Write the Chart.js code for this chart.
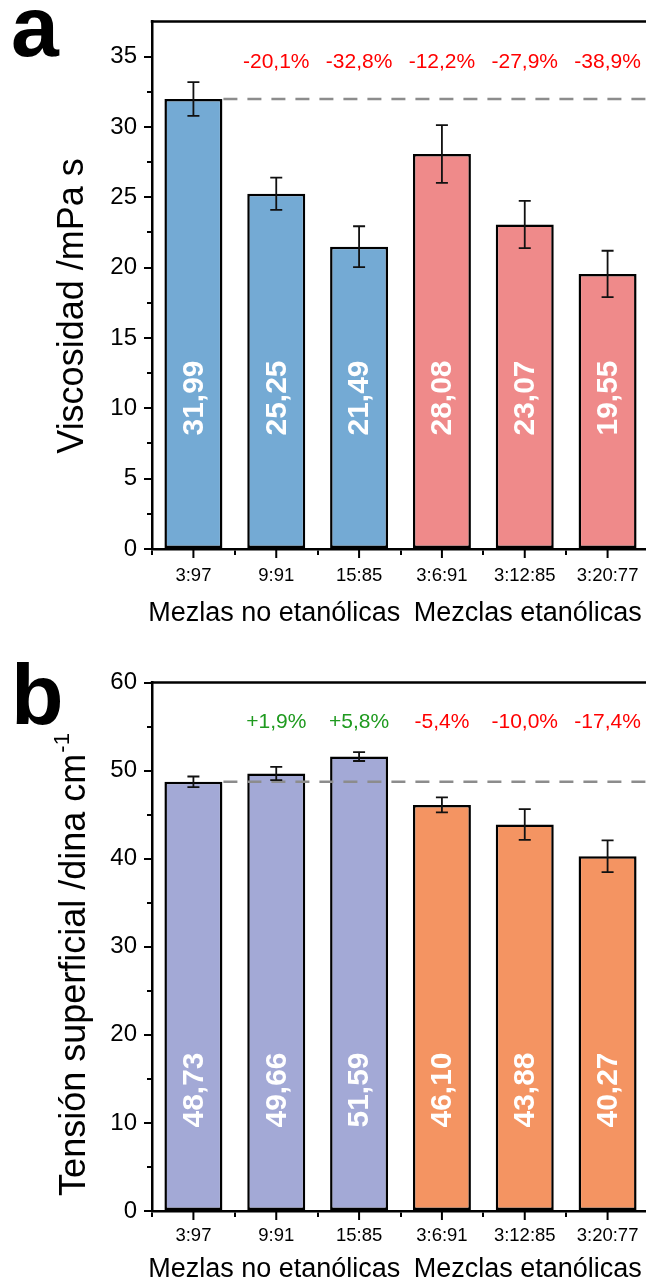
<!DOCTYPE html>
<html><head><meta charset="utf-8">
<script src="https://cdn.jsdelivr.net/npm/chart.js@4.4.0/dist/chart.umd.min.js"></script>
<style>
html,body{margin:0;padding:0;background:#fff;overflow:hidden;width:646px;height:1285px;}
#wrap{position:relative;width:646px;height:1285px;overflow:hidden;background:#fff;}
canvas{position:absolute;left:0;}
#ca{top:0;} #cb{top:640px;}
</style></head><body>
<div id="wrap">
<canvas id="ca" width="650" height="640"></canvas>
<canvas id="cb" width="650" height="645"></canvas>
</div>
<script>
// ---------- data ----------
const categories = ['3:97','9:91','15:85','3:6:91','3:12:85','3:20:77'];
const groupLabels = ['Mezlas no etanólicas','Mezclas etanólicas'];

const viscosity = [31.99, 25.25, 21.49, 28.08, 23.07, 19.55];
const viscosityErr = [1.2, 1.15, 1.45, 2.05, 1.68, 1.65];
const viscosityLabels = ['31,99','25,25','21,49','28,08','23,07','19,55'];
const viscosityChange = ['','-20,1%','-32,8%','-12,2%','-27,9%','-38,9%'];
const viscosityTicks = [0,5,10,15,20,25,30,35];
const viscosityMinor = [2.5,7.5,12.5,17.5,22.5,27.5,32.5];

const tension = [48.73, 49.66, 51.59, 46.10, 43.88, 40.27];
const tensionErr = [0.6, 0.75, 0.5, 0.85, 1.75, 1.8];
const tensionLabels = ['48,73','49,66','51,59','46,10','43,88','40,27'];
const tensionChange = ['','+1,9%','+5,8%','-5,4%','-10,0%','-17,4%'];
const tensionTicks = [0,10,20,30,40,50,60];
const tensionMinor = [5,15,25,35,45,55];

const FONT = 'Arial, "Liberation Sans", sans-serif';

const decor = {
  id: 'decor',
  afterDatasetsDraw(chart, args, o) {
    const {ctx, chartArea: a, scales: {x, y}} = chart;
    const meta = chart.getDatasetMeta(0);
    ctx.save();
    // dashed reference line
    const b0 = meta.data[0];
    const yRef = y.getPixelForValue(o.values[0]);
    ctx.strokeStyle = '#8c8c8c';
    ctx.lineWidth = 2.5;
    ctx.setLineDash([14, 10]);
    ctx.beginPath();
    ctx.moveTo(b0.x + b0.width / 2 + 1, yRef);
    ctx.lineTo(a.right, yRef);
    ctx.stroke();
    ctx.setLineDash([]);
    // error bars
    ctx.strokeStyle = '#111';
    ctx.lineWidth = 1.8;
    meta.data.forEach((bar, i) => {
      const v = o.values[i], e = o.errors[i];
      const yt = y.getPixelForValue(v + e), yb = y.getPixelForValue(v - e);
      ctx.beginPath();
      ctx.moveTo(bar.x, yt); ctx.lineTo(bar.x, yb);
      ctx.moveTo(bar.x - 6, yt); ctx.lineTo(bar.x + 6, yt);
      ctx.moveTo(bar.x - 6, yb); ctx.lineTo(bar.x + 6, yb);
      ctx.stroke();
    });
    // value labels inside bars (rotated)
    ctx.fillStyle = '#ffffff';
    ctx.font = 'bold 30px ' + FONT;
    ctx.textAlign = 'center';
    ctx.textBaseline = 'middle';
    meta.data.forEach((bar, i) => {
      ctx.save();
      ctx.translate(bar.x, a.bottom - o.labelOffset);
      ctx.rotate(-Math.PI / 2);
      ctx.fillText(o.valueLabels[i], 0, 1);
      ctx.restore();
    });
    // percentage changes
    ctx.font = '21px ' + FONT;
    meta.data.forEach((bar, i) => {
      const t = o.changes[i];
      if (!t) return;
      ctx.fillStyle = t.startsWith('+') ? '#1f9a1f' : '#ff0000';
      ctx.fillText(t, bar.x, a.top + o.pctOffset);
    });
    ctx.restore();
  },
  afterDraw(chart, args, o) {
    const {ctx, chartArea: a, scales: {x, y}} = chart;
    ctx.save();
    ctx.strokeStyle = '#000';
    // top frame
    ctx.lineWidth = 2.5;
    ctx.beginPath();
    ctx.moveTo(a.left - 1.25, a.top);
    ctx.lineTo(a.right, a.top);
    ctx.stroke();
    // minor y ticks
    ctx.lineWidth = 2;
    ctx.beginPath();
    o.minor.forEach(v => {
      const py = Math.round(y.getPixelForValue(v));
      ctx.moveTo(a.left, py); ctx.lineTo(a.left - 5, py);
    });
    // x ticks at category centers
    chart.getDatasetMeta(0).data.forEach(bar => {
      ctx.moveTo(bar.x, a.bottom); ctx.lineTo(bar.x, a.bottom + 9);
    });
    ctx.stroke();
    // group labels
    ctx.fillStyle = '#000';
    ctx.font = '27px ' + FONT;
    ctx.textAlign = 'center';
    ctx.textBaseline = 'middle';
    ctx.fillText(groupLabels[0], x.getPixelForValue(1) - 2, a.bottom + o.groupOffset);
    ctx.fillText(groupLabels[1], x.getPixelForValue(4) + 3, a.bottom + o.groupOffset);
    // axis title (rotated, with optional superscript)
    ctx.save();
    ctx.translate(o.titleX, o.titleY);
    ctx.rotate(-Math.PI / 2);
    ctx.textBaseline = 'alphabetic';
    ctx.textAlign = 'left';
    ctx.font = o.titleSize + 'px ' + FONT;
    const wMain = ctx.measureText(o.title).width;
    let wSup = 0;
    const supFont = Math.round(o.titleSize * 0.6) + 'px ' + FONT;
    if (o.sup) { ctx.font = supFont; wSup = ctx.measureText(o.sup).width; }
    const start = -(wMain + wSup) / 2;
    ctx.font = o.titleSize + 'px ' + FONT;
    ctx.fillText(o.title, start, 0);
    if (o.sup) {
      ctx.font = supFont;
      ctx.fillText(o.sup, start + wMain + 1, -o.titleSize * 0.45);
    }
    ctx.restore();
    // panel letter
    ctx.font = 'bold 86px ' + FONT;
    ctx.textAlign = 'left';
    ctx.textBaseline = 'alphabetic';
    ctx.fillText(o.letter, 11, o.letterBase);
    ctx.restore();
  }
};

function makeChart(id, cfg) {
  const canvas = document.getElementById(id);
  return new Chart(canvas, {
    type: 'bar',
    data: {
      labels: categories,
      datasets: [{
        data: cfg.values,
        backgroundColor: cfg.colors,
        borderColor: '#000',
        borderWidth: 2.5,
        borderSkipped: false,
        barPercentage: 0.70,
        categoryPercentage: 1.0
      }]
    },
    options: {
      responsive: false,
      animation: false,
      events: [],
      layout: { padding: { top: cfg.areaTop, right: 1, left: 0, bottom: 0 } },
      plugins: {
        legend: { display: false },
        tooltip: { enabled: false },
        decor: {
          values: cfg.values, errors: cfg.errors, valueLabels: cfg.valueLabels,
          changes: cfg.changes, minor: cfg.minor, labelOffset: cfg.labelOffset,
          pctOffset: cfg.pctOffset, groupOffset: cfg.groupOffset,
          title: cfg.title, sup: cfg.sup, titleSize: cfg.titleSize,
          titleX: cfg.titleX, titleY: cfg.titleY,
          letter: cfg.letter, letterBase: cfg.letterBase
        }
      },
      scales: {
        x: {
          type: 'category',
          offset: true,
          afterFit(s) { s.height = canvas.height - cfg.areaBottom; },
          grid: { display: true, offset: true, drawOnChartArea: false, drawTicks: true,
                  tickLength: 6, color: '#000', lineWidth: 2 },
          border: { display: true, color: '#000', width: 2.5 },
          ticks: { color: '#000', font: { family: FONT, size: 18.5 }, padding: cfg.tickPad,
                   maxRotation: 0, autoSkip: false }
        },
        y: {
          min: 0, max: cfg.max,
          afterFit(s) { s.width = 152; },
          afterBuildTicks(s) { s.ticks = cfg.ticks.map(v => ({ value: v })); },
          grid: { display: true, drawOnChartArea: false, drawTicks: true,
                  tickLength: 8, color: '#000', lineWidth: 2 },
          border: { display: true, color: '#000', width: 2.5 },
          ticks: { color: '#000', font: { family: FONT, size: 24 }, padding: 7 }
        }
      }
    },
    plugins: [decor]
  });
}

makeChart('ca', {
  values: viscosity, errors: viscosityErr, valueLabels: viscosityLabels,
  changes: viscosityChange, ticks: viscosityTicks, minor: viscosityMinor, max: 37.5,
  colors: ['#74aad4','#74aad4','#74aad4','#ef8a8a','#ef8a8a','#ef8a8a'],
  areaTop: 21, areaBottom: 549, labelOffset: 151, pctOffset: 41,
  tickPad: 10, groupOffset: 65,
  title: 'Viscosidad /mPa s', sup: '', titleSize: 36, titleX: 83, titleY: 306,
  letter: 'a', letterBase: 56
});

makeChart('cb', {
  values: tension, errors: tensionErr, valueLabels: tensionLabels,
  changes: tensionChange, ticks: tensionTicks, minor: tensionMinor, max: 60,
  colors: ['#a3a9d6','#a3a9d6','#a3a9d6','#f49462','#f49462','#f49462'],
  areaTop: 42.5, areaBottom: 571, labelOffset: 121, pctOffset: 40,
  tickPad: 8, groupOffset: 59,
  title: 'Tensión superficial /dina cm', sup: '-1', titleSize: 36, titleX: 85, titleY: 325,
  letter: 'b', letterBase: 84
});
</script>
</body></html>
